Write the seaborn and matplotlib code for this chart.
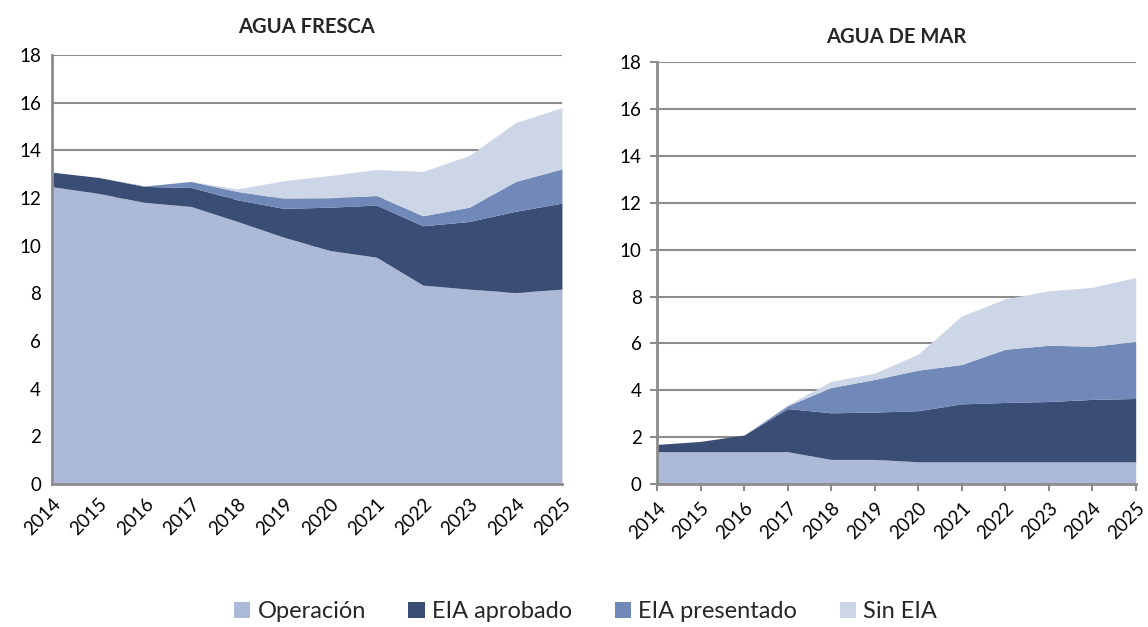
import matplotlib
matplotlib.use("Agg")
import matplotlib.pyplot as plt
import seaborn as sns
import numpy as np
from matplotlib.patches import Patch

years = [2014, 2015, 2016, 2017, 2018, 2019, 2020, 2021, 2022, 2023, 2024, 2025]
series_names = ["Operación", "EIA aprobado", "EIA presentado", "Sin EIA"]

fresca_operacion = [12.48, 12.20, 11.82, 11.65, 11.02, 10.36, 9.80, 9.52, 8.35, 8.18, 8.04, 8.18]
fresca_aprobado = [0.61, 0.67, 0.67, 0.80, 0.91, 1.21, 1.82, 2.19, 2.49, 2.84, 3.41, 3.61]
fresca_presentado = [0.00, 0.00, 0.02, 0.25, 0.35, 0.42, 0.39, 0.40, 0.42, 0.60, 1.25, 1.44]
fresca_sin_eia = [0.00, 0.00, 0.00, 0.00, 0.11, 0.74, 0.94, 1.09, 1.86, 2.17, 2.47, 2.57]

mar_operacion = [1.38, 1.38, 1.38, 1.38, 1.05, 1.05, 0.95, 0.95, 0.95, 0.95, 0.95, 0.95]
mar_aprobado = [0.31, 0.44, 0.71, 1.84, 1.99, 2.02, 2.18, 2.47, 2.53, 2.57, 2.66, 2.70]
mar_presentado = [0.00, 0.00, 0.00, 0.12, 1.08, 1.39, 1.73, 1.68, 2.27, 2.40, 2.27, 2.43]
mar_sin_eia = [0.00, 0.00, 0.00, 0.04, 0.26, 0.27, 0.68, 2.07, 2.15, 2.32, 2.51, 2.73]

titles = ["AGUA FRESCA", "AGUA DE MAR"]
yticks = [0, 2, 4, 6, 8, 10, 12, 14, 16, 18]

colors = ["#adbad7", "#3a4d74", "#7189b8", "#cdd6e6"]

sns.set_theme(style="white")
plt.rcParams["font.family"] = ["Lato", "DejaVu Sans"]

fig = plt.figure(figsize=(11.48, 6.27), dpi=100)
ax1 = fig.add_axes([0.0453, 0.228, 0.4442, 0.684])
ax2 = fig.add_axes([0.5723, 0.228, 0.4170, 0.673])

grid_color = "#8c8c8c"
data_sets = [
    [fresca_operacion, fresca_aprobado, fresca_presentado, fresca_sin_eia],
    [mar_operacion, mar_aprobado, mar_presentado, mar_sin_eia],
]

for i, (ax, data, title) in enumerate(zip([ax1, ax2], data_sets, titles)):
    ax.stackplot(years, *data, colors=colors, linewidth=0, zorder=2)
    ax.set_xlim(years[0], years[-1])
    ax.set_ylim(0, 18)
    ax.set_yticks(yticks)
    ax.set_yticklabels([str(v) for v in yticks], fontsize=13.5, color="#000000")
    ax.set_xticks(years)
    ax.set_xticklabels([str(y) for y in years], rotation=45, ha="right",
                       rotation_mode="anchor", fontsize=13.5, color="#000000")
    for y in yticks[1:]:
        ax.axhline(y, color=grid_color, linewidth=1.5, zorder=1)
    for s in ["top", "right"]:
        ax.spines[s].set_visible(False)
    for s in ["left", "bottom"]:
        ax.spines[s].set_color(grid_color)
        ax.spines[s].set_linewidth(2)
        ax.spines[s].set_zorder(3)
    ax.set_title(title, fontsize=14.5, fontweight="bold", pad=16 if i == 0 else 14)
    if i == 0:
        ax.tick_params(axis="both", length=0, pad=8)
    else:
        ax.tick_params(axis="both", length=5, width=1.5, color=grid_color, pad=6,
                       direction="out", bottom=True, left=True)

handles = [Patch(facecolor=c, edgecolor="none") for c in colors]
fig.legend(handles, series_names, loc="center", bbox_to_anchor=(0.51, 0.024),
           ncol=4, frameon=False, fontsize=17, handlelength=0.7, handleheight=0.7,
           handletextpad=0.3, columnspacing=1.8)

fig.savefig("out.png", dpi=100)
